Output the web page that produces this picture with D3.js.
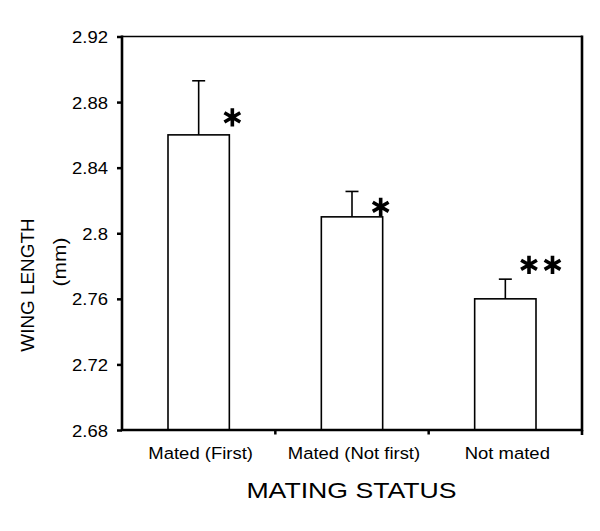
<!DOCTYPE html>
<html>
<head>
<meta charset="utf-8">
<script src="https://cdn.jsdelivr.net/npm/d3@7"></script>
<style>
  body { margin: 0; background: #fff; }
  svg { display: block; }
  text { font-family: "Liberation Sans", Arial, sans-serif; fill: #000; }
</style>
</head>
<body>
<script>

// data
const categories = ['Mated (First)', 'Mated (Not first)', 'Not mated']
const means = [2.86, 2.81, 2.76]
const errors = [0.033, 0.0155, 0.012]
const stars = ['*', '*', '**']
const yTicks = [2.68, 2.72, 2.76, 2.8, 2.84, 2.88, 2.92]

const W = 600, H = 531
const margin = { top: 36.5, right: 18, bottom: 101, left: 122 }
const width = W - margin.left - margin.right
const height = H - margin.top - margin.bottom

const svg = d3.select('body').append('svg')
	.attr('width', W)
	.attr('height', H)

const g = svg.append('g')
	.attr('transform', 'translate(' + margin.left + ',' + margin.top + ')')

const x = d3.scaleBand()
	.domain(categories)
	.range([0, width])
	.paddingInner(0.6)
	.paddingOuter(0.3)

const y = d3.scaleLinear().domain([2.68, 2.92]).range([height, 0])

// stretch text horizontally a bit, the original glyphs are wide
function stretch(sel, k) {
	sel.each(function() {
		const t = d3.select(this)
		const tx = +t.attr('x') || 0
		t.attr('x', tx / k).attr('transform', 'scale(' + k + ',1)')
	})
}

// bars
g.selectAll('rect.bar')
	.data(means)
	.enter().append('rect')
	.attr('class', 'bar')
	.attr('x', (d, i) => x(categories[i]))
	.attr('width', x.bandwidth())
	.attr('y', d => y(d))
	.attr('height', d => height - y(d))
	.attr('fill', '#fff')
	.attr('stroke', '#000')
	.attr('stroke-width', 1.6)

// error bars (upper only)
const capW = 13
const eb = g.selectAll('g.err')
	.data(means)
	.enter().append('g')
	.attr('class', 'err')
	.attr('transform', (d, i) => 'translate(' + (x(categories[i]) + x.bandwidth() / 2) + ',0)')
eb.append('line')
	.attr('y1', d => y(d))
	.attr('y2', (d, i) => y(d + errors[i]))
	.attr('stroke', '#000').attr('stroke-width', 1.6)
eb.append('line')
	.attr('x1', -capW / 2).attr('x2', capW / 2)
	.attr('y1', (d, i) => y(d + errors[i]))
	.attr('y2', (d, i) => y(d + errors[i]))
	.attr('stroke', '#000').attr('stroke-width', 1.6)

// significance asterisks: offsets from the bar's top-right corner
const starOff = [[3, -17.5], [-2, -10], [-7, -34]]
const starGap = 23.5
const star = d3.symbol().type(d3.symbolAsterisk).size(235)
stars.forEach(function(s, i) {
	const bx = x(categories[i]) + x.bandwidth() + starOff[i][0]
	const by = y(means[i]) + starOff[i][1]
	for (let k = 0; k < s.length; k++) {
		g.append('path')
			.attr('d', star())
			.attr('transform', 'translate(' + (bx + k * starGap) + ',' + by + ')')
			.attr('fill', 'none')
			.attr('stroke', '#000')
			.attr('stroke-width', 3.6)
	}
})

// y axis
const yAxis = d3.axisLeft(y)
	.tickValues(yTicks)
	.tickFormat(d => String(+d.toFixed(2)))
	.tickSize(5)
	.tickPadding(9)
const ya = g.append('g').call(yAxis)
ya.select('.domain').remove()
ya.selectAll('line').attr('stroke-width', 2.5)
ya.selectAll('text')
	.style('font-size', '16.8px')
	.attr('dy', '0.36em')
	.call(stretch, 1.1)

// x axis ticks sit on the band boundaries
const bounds = [x.step() * 1, x.step() * 2]
g.selectAll('line.xt')
	.data(bounds)
	.enter().append('line')
	.attr('class', 'xt')
	.attr('x1', d => d).attr('x2', d => d)
	.attr('y1', height).attr('y2', height + 4.5)
	.attr('stroke', '#000').attr('stroke-width', 2.5)

g.selectAll('text.cat')
	.data(categories)
	.enter().append('text')
	.attr('class', 'cat')
	.attr('x', d => x(d) + x.bandwidth() / 2 + 2)
	.attr('y', height + 29.3)
	.attr('text-anchor', 'middle')
	.style('font-size', '16.8px')
	.text(d => d)
	.call(stretch, 1.1)

// frame
g.append('line')
	.attr('x1', 0).attr('x2', width).attr('y1', 0).attr('y2', 0)
	.attr('stroke', '#000').attr('stroke-width', 1.6)
g.append('path')
	.attr('d', 'M0,-1V' + height + 'H' + width + 'V-1')
	.attr('fill', 'none').attr('stroke', '#000').attr('stroke-width', 2.6)
g.append('line')
	.attr('x1', width).attr('x2', width).attr('y1', height).attr('y2', height + 5)
	.attr('stroke', '#000').attr('stroke-width', 2.6)

// axis titles
svg.append('text')
	.attr('x', 351.5)
	.attr('y', 498.3)
	.attr('text-anchor', 'middle')
	.style('font-size', '21.5px')
	.text('MATING STATUS')
	.call(stretch, 1.24)

svg.append('g')
	.attr('transform', 'translate(33.5,285) rotate(-90)')
	.append('text')
	.attr('text-anchor', 'middle')
	.style('font-size', '17.5px')
	.text('WING LENGTH')
	.call(stretch, 1.08)

svg.append('g')
	.attr('transform', 'translate(66.3,262) rotate(-90)')
	.append('text')
	.attr('text-anchor', 'middle')
	.style('font-size', '17.5px')
	.text('(mm)')
	.call(stretch, 1.2)

</script>
</body>
</html>
